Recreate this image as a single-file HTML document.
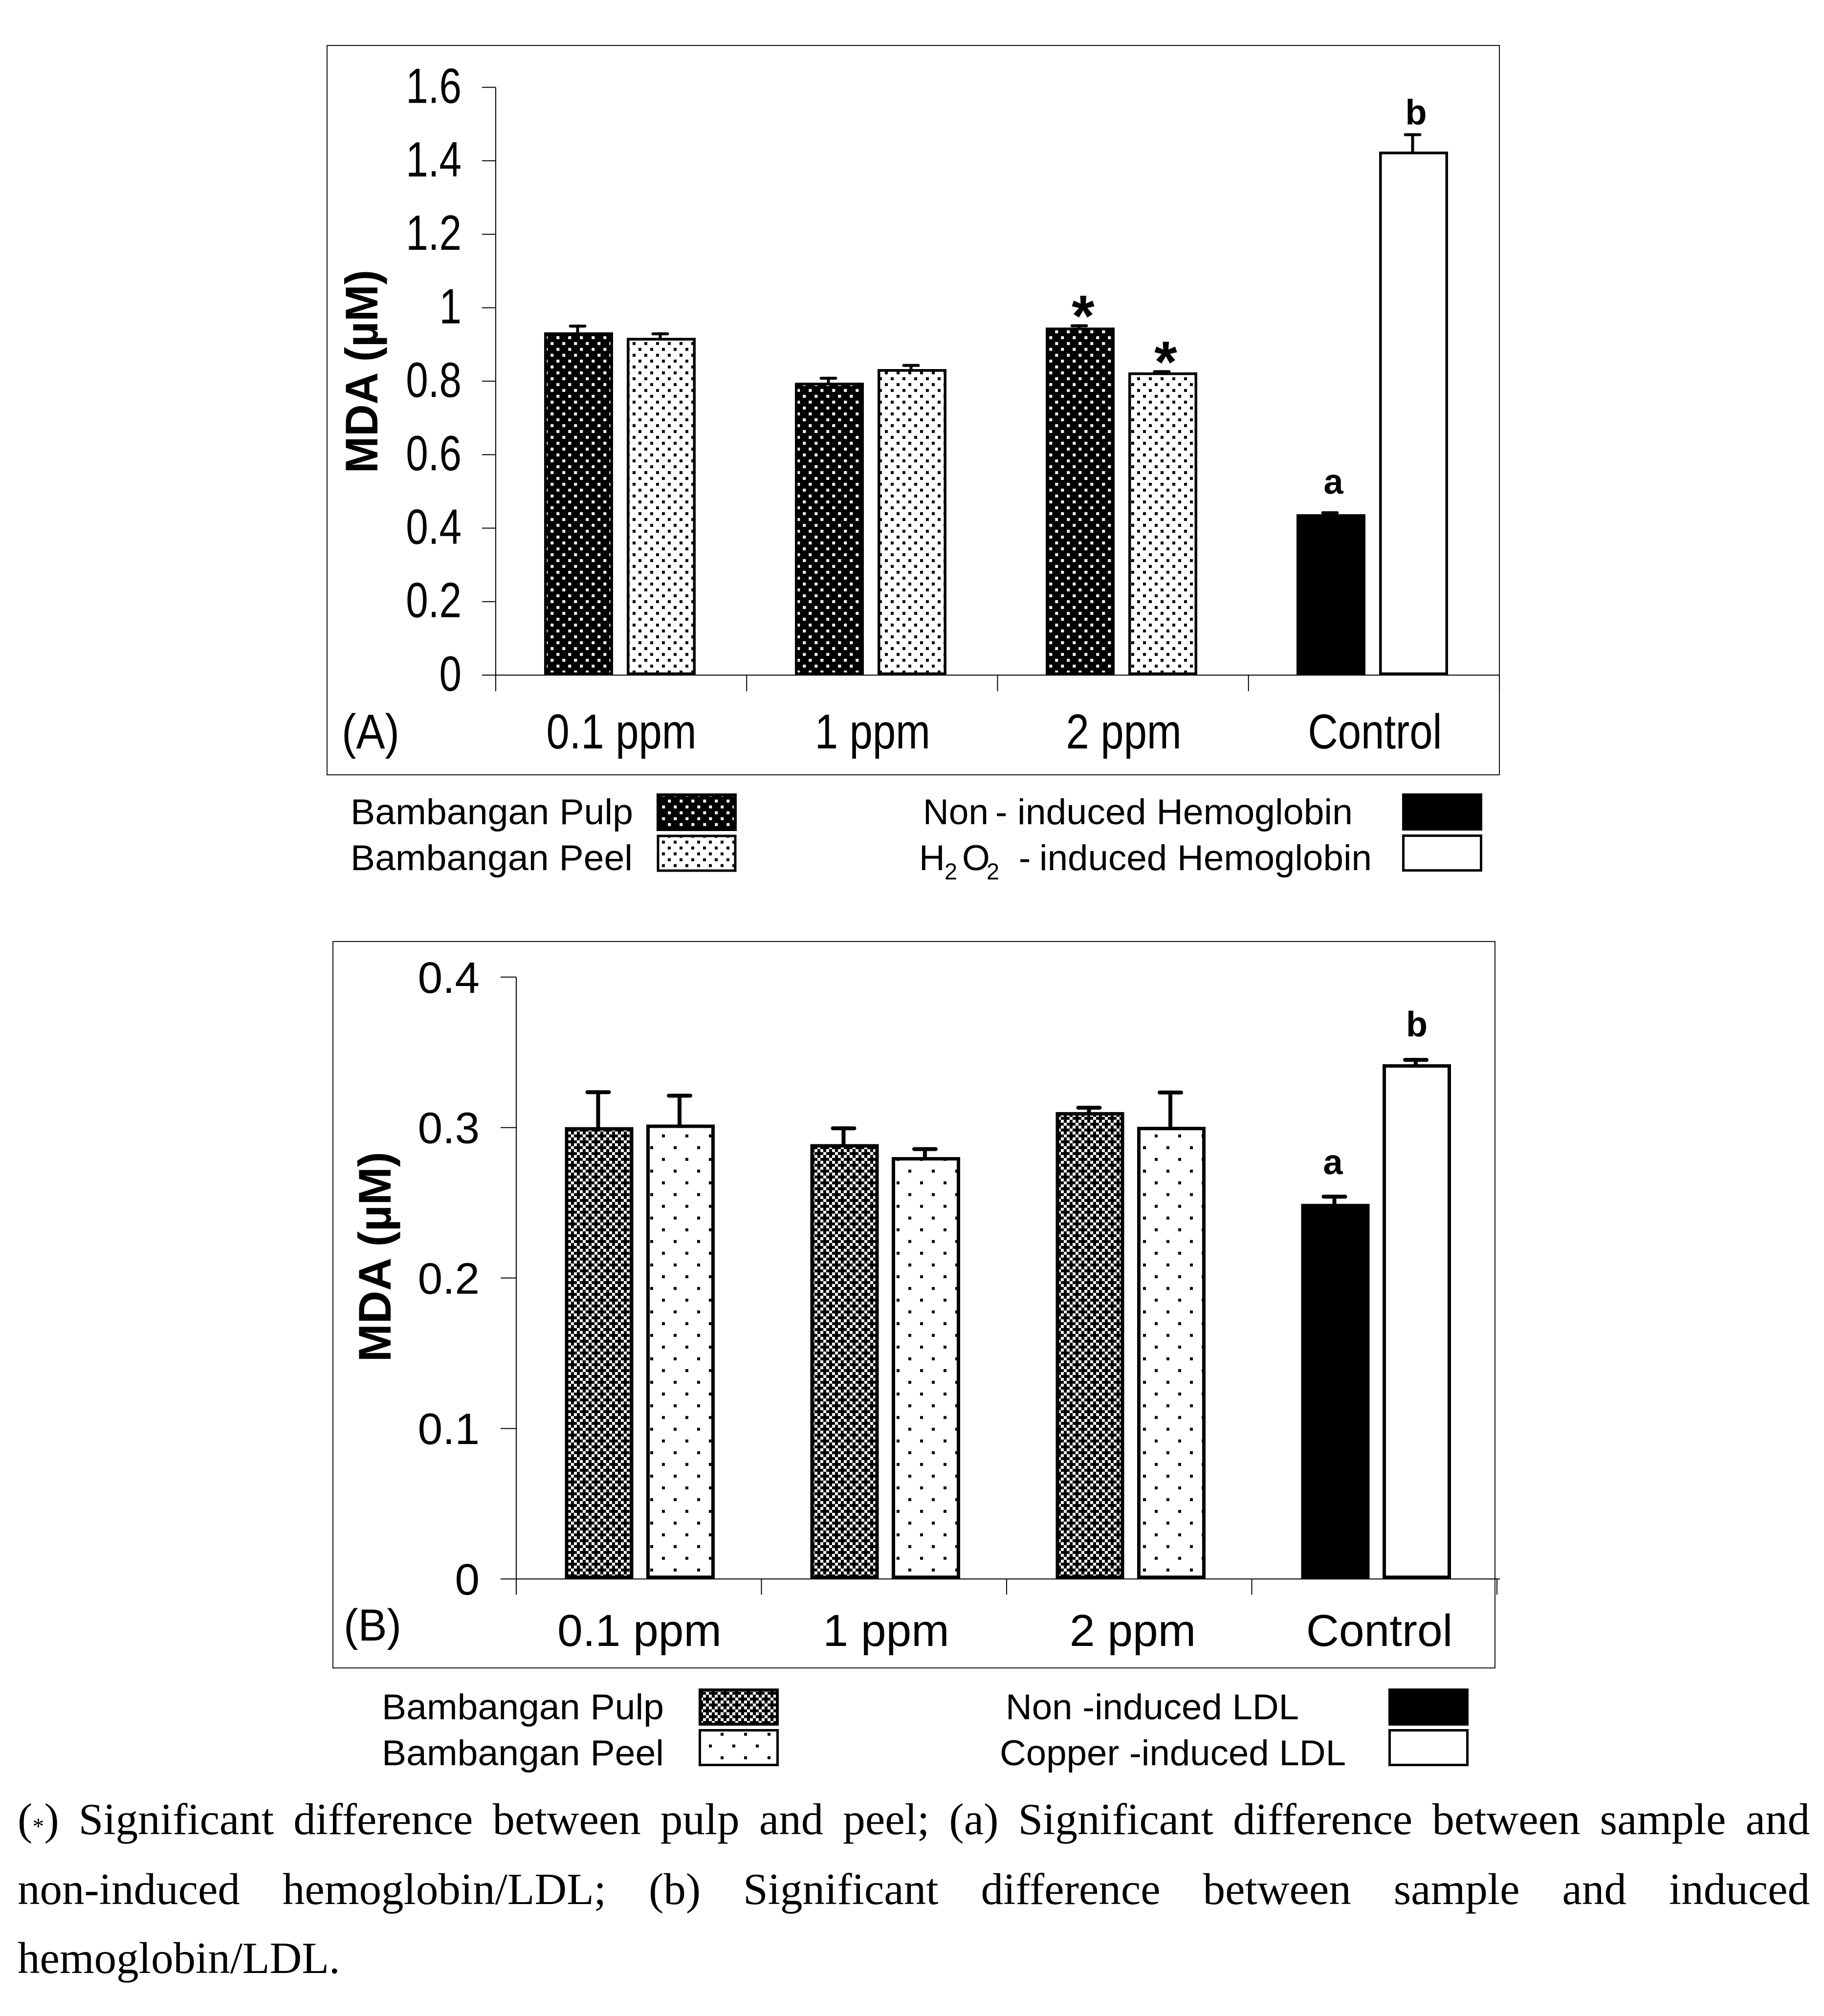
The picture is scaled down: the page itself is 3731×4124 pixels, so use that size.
<!DOCTYPE html>
<html lang="en">
<head>
<meta charset="utf-8">
<title>MDA levels in hemoglobin and LDL</title>
<style>
  html, body { margin: 0; padding: 0; background: #fff; }
  #page { position: relative; width: 3731px; height: 4124px; overflow: hidden; background: #fff; }
  #figure { position: absolute; left: 0; top: 0; }
  svg text { font-family: "Liberation Sans", Arial, sans-serif; fill: #000; }
  .cap { position: absolute; left: 36px; width: 3680px; font-family: "Liberation Serif", "Times New Roman", serif;
         font-size: 91px; line-height: 100px; height: 100px; color: #000; white-space: normal; text-align: justify; text-align-last: justify; }
  .cap.last { text-align: left; text-align-last: left; }
  .small { font-size: 48px; }
</style>
</head>
<body>
<div id="page">
<svg id="figure" width="3731" height="4124" viewBox="0 0 3731 4124" xmlns="http://www.w3.org/2000/svg">
  <defs>
    <pattern id="pulpA" patternUnits="userSpaceOnUse" width="24" height="24" x="1126.3" y="1371.7">
      <rect width="24" height="24" fill="#000"/>
      <rect x="0" y="0" width="6" height="6" fill="#fff"/>
      <rect x="12" y="12" width="6" height="6" fill="#fff"/>
    </pattern>
    <pattern id="peelA" patternUnits="userSpaceOnUse" width="24" height="24" x="1294" y="699.7">
      <rect width="24" height="24" fill="#fff"/>
      <rect x="0" y="0" width="6" height="6" fill="#000"/>
      <rect x="12" y="12" width="6" height="6" fill="#000"/>
    </pattern>
    <pattern id="pulpB" patternUnits="userSpaceOnUse" width="24" height="24" x="1162" y="2338.7">
      <rect width="24" height="24" fill="#000"/>
      <rect x="0" y="0" width="6" height="6" fill="#fff"/>
      <rect x="12" y="0" width="6" height="6" fill="#fff"/>
      <rect x="6" y="6" width="6" height="6" fill="#fff"/>
      <rect x="0" y="12" width="6" height="6" fill="#fff"/>
      <rect x="12" y="12" width="6" height="6" fill="#fff"/>
      <rect x="18" y="18" width="6" height="6" fill="#fff"/>
    </pattern>
    <pattern id="peelB" patternUnits="userSpaceOnUse" width="48" height="48" x="1330" y="2344.7">
      <rect width="48" height="48" fill="#fff"/>
      <rect x="0" y="0" width="6" height="6" fill="#000"/>
      <rect x="24" y="24" width="6" height="6" fill="#000"/>
    </pattern>
  </defs>

  <rect x="669" y="93" width="2398" height="1492" fill="none" stroke="#111" stroke-width="2"/>
  <g id="panelA"></g>
  <text x="699" y="1531" font-size="100" textLength="118" lengthAdjust="spacingAndGlyphs">(A)</text>
  <text transform="translate(772,968) rotate(-90)" font-size="94" font-weight="700" textLength="416" lengthAdjust="spacingAndGlyphs">MDA (µM)</text>

  <g>
    <text x="717" y="1686" font-size="73" textLength="578" lengthAdjust="spacingAndGlyphs">Bambangan Pulp</text>
    <text x="717" y="1780" font-size="73" textLength="577" lengthAdjust="spacingAndGlyphs">Bambangan Peel</text>
    <rect x="1346" y="1626" width="158" height="71" fill="url(#pulpA)" stroke="#000" stroke-width="6"/>
    <rect x="1346" y="1710" width="158" height="71" fill="url(#peelA)" stroke="#000" stroke-width="5"/>
    <text x="1888" y="1686" font-size="73">Non</text>
    <text x="2036" y="1686" font-size="73">-</text>
    <text x="2081" y="1686" font-size="73" textLength="686" lengthAdjust="spacingAndGlyphs">induced Hemoglobin</text>
    <text y="1780" font-size="73"><tspan x="1880">H</tspan><tspan x="1932" dy="19" font-size="47">2</tspan><tspan x="1968" dy="-19">O</tspan><tspan x="2018" dy="19" font-size="47">2</tspan><tspan x="2084" dy="-19">-</tspan></text>
    <text x="2126" y="1780" font-size="73" textLength="680" lengthAdjust="spacingAndGlyphs">induced Hemoglobin</text>
    <rect x="2868" y="1623" width="164" height="76" fill="#000"/>
    <rect x="2870.5" y="1709.5" width="159" height="71" fill="#fff" stroke="#000" stroke-width="5"/>
  </g>

  <rect x="681" y="1926" width="2377" height="1486" fill="none" stroke="#111" stroke-width="2"/>
  <g id="panelB"></g>
  <text x="703" y="3356" font-size="92" textLength="118" lengthAdjust="spacingAndGlyphs">(B)</text>
  <text transform="translate(799,2786) rotate(-90)" font-size="94" font-weight="700" textLength="430" lengthAdjust="spacingAndGlyphs">MDA (µM)</text>

  <g>
    <text x="781" y="3517" font-size="73" textLength="577" lengthAdjust="spacingAndGlyphs">Bambangan Pulp</text>
    <text x="781" y="3611" font-size="73" textLength="577" lengthAdjust="spacingAndGlyphs">Bambangan Peel</text>
    <rect x="1432" y="3457" width="158" height="70" fill="url(#pulpB)" stroke="#000" stroke-width="6"/>
    <rect x="1431.5" y="3539.5" width="159" height="71" fill="url(#peelB)" stroke="#000" stroke-width="5"/>
    <text x="2057" y="3517" font-size="73" textLength="600" lengthAdjust="spacingAndGlyphs">Non -induced LDL</text>
    <text x="2045" y="3611" font-size="73" textLength="708" lengthAdjust="spacingAndGlyphs">Copper -induced LDL</text>
    <rect x="2840" y="3454" width="164" height="76" fill="#000"/>
    <rect x="2842.5" y="3539.5" width="159" height="71" fill="#fff" stroke="#000" stroke-width="5"/>
  </g>
</svg>

<div class="cap" style="top:3672px;width:3666px">(<span class="small">*</span>) Significant difference between pulp and peel; (a) Significant difference between sample and</div>
<div class="cap" style="top:3815px;width:3666px">non-induced hemoglobin/LDL; (b) Significant difference between sample and induced</div>
<div class="cap last" style="top:3956px">hemoglobin/LDL.</div>
</div>

<script>
const categories = ['0.1 ppm', '1 ppm', '2 ppm', 'Control'];

const tickValuesA = [0, 0.2, 0.4, 0.6, 0.8, 1, 1.2, 1.4, 1.6];
const tickLabelsA = ['0', '0.2', '0.4', '0.6', '0.8', '1', '1.2', '1.4', '1.6'];
const pulpA = [0.933, 0.796, 0.946];
const pulpErrA = [0.021, 0.016, 0.009];
const peelA = [0.918, 0.833, 0.824];
const peelErrA = [0.015, 0.014, 0.006];
const nonInducedA = [0.438];
const nonInducedErrA = [0.008];
const inducedA = [1.425];
const inducedErrA = [0.05];
const marksA = [['', ''], ['', ''], ['*', '*'], ['a', 'b']];

const tickValuesB = [0, 0.1, 0.2, 0.3, 0.4];
const tickLabelsB = ['0', '0.1', '0.2', '0.3', '0.4'];
const pulpB = [0.3003, 0.289, 0.3103];
const pulpErrB = [0.0245, 0.0118, 0.0042];
const peelB = [0.302, 0.2804, 0.3005];
const peelErrB = [0.0205, 0.0066, 0.0241];
const nonInducedB = [0.2493];
const nonInducedErrB = [0.0061];
const inducedB = [0.3421];
const inducedErrB = [0.0042];
const marksB = [['', ''], ['', ''], ['', ''], ['a', 'b']];

const SVG_NS = 'http://www.w3.org/2000/svg';

function make(tag, attrs, parent) {
  const node = document.createElementNS(SVG_NS, tag);
  Object.keys(attrs).forEach(function (k) { node.setAttribute(k, attrs[k]); });
  parent.appendChild(node);
  return node;
}

function drawPanel(root, cfg, ticksV, ticksL, first, firstErr, second, secondErr, ctrl1, ctrl1Err, ctrl2, ctrl2Err, marks) {
  const yScale = function (v) { return cfg.zeroY - v * cfg.pxPerUnit; };
  const tickX = function (i) { return cfg.bandLeft + i * cfg.tickStep; };
  const barX = function (i, which) { return cfg.bandLeft + i * cfg.barStep + (which === 0 ? cfg.off1 : cfg.off2); };
  const topY = yScale(ticksV[ticksV.length - 1]);

  const yAxis = make('line', { x1: cfg.bandLeft, x2: cfg.bandLeft, y1: topY, y2: cfg.tickBottom, stroke: '#000', 'stroke-width': 2 }, root);
  
  

  ticksV.forEach(function (v, i) {
    const y = yScale(v);
    const tick = make('line', { x1: cfg.tickLeft, x2: cfg.bandLeft, y1: y, y2: y, stroke: '#000', 'stroke-width': 2 }, root);
    
    
    const label = make('text', {
      transform: 'translate(' + cfg.tickLabelX + ',' + (y + cfg.tickLabelDy) + ') scale(' + cfg.tickLabelSx + ',1)',
      'text-anchor': 'end', 'font-size': cfg.tickFont
    }, root);
    label.textContent = ticksL[i];
    
    
  });

  categories.forEach(function (name, i) {
    const isControl = i >= first.length;
    const vals = isControl ? [ctrl1[i - first.length], ctrl2[i - first.length]] : [first[i], second[i]];
    const errs = isControl ? [ctrl1Err[i - first.length], ctrl2Err[i - first.length]] : [firstErr[i], secondErr[i]];
    const fills = isControl ? ['#000', '#fff'] : [cfg.fill1, cfg.fill2];

    vals.forEach(function (v, s) {
      const x = barX(i, s);
      const top = yScale(v);
      const errTop = yScale(v + errs[s]);
      const cx = x + cfg.barWidth / 2 - 2;
      const stem = make('line', { x1: cx, x2: cx, y1: errTop, y2: top + 2, stroke: '#000', 'stroke-width': cfg.stem }, root);
      
      
      const capLine = make('line', {
        x1: cx - cfg.capHalf + cfg.stem / 2, x2: cx + cfg.capHalf - cfg.stem / 2,
        y1: errTop + cfg.stem / 2, y2: errTop + cfg.stem / 2,
        stroke: '#000', 'stroke-width': cfg.stem, 'stroke-linecap': 'round'
      }, root);
      
      
      const bar = make('rect', {
        x: x + cfg.barStroke / 2, y: top + cfg.barStroke / 2,
        width: cfg.barWidth - cfg.barStroke, height: cfg.zeroY - top - cfg.barStroke,
        fill: fills[s], stroke: '#000', 'stroke-width': cfg.barStroke
      }, root);
      
      

      const m = marks[i][s];
      if (m) {
        const isStar = m === '*';
        const base = isStar ? errTop + 24 : errTop - cfg.markGap[m];
        const markText = make('text', {
          x: cx + cfg.markDx[m], y: base, 'text-anchor': 'middle',
          'font-weight': 700, 'font-size': isStar ? 120 : 72
        }, root);
        markText.textContent = m;
        
        
      }
    });

    const catLabel = make('text', {
      transform: 'translate(' + (cfg.labelStart + i * cfg.labelStep) + ',' + cfg.labelY + ') scale(' + cfg.labelSx + ',1)',
      'text-anchor': 'middle', 'font-size': cfg.labelFont
    }, root);
    catLabel.textContent = name;
    
    
  });

  categories.forEach(function (name, i) {
    const xTick = make('line', { x1: tickX(i + 1), x2: tickX(i + 1), y1: cfg.zeroY, y2: cfg.tickBottom, stroke: '#000', 'stroke-width': 2 }, root);
    
    
  });

  const xAxis = make('line', { x1: cfg.tickLeft, x2: cfg.axisRight, y1: cfg.zeroY, y2: cfg.zeroY, stroke: '#000', 'stroke-width': 2 }, root);
  
  
}

drawPanel(document.getElementById('panelA'), {
  zeroY: 1381, pxPerUnit: 751.5, bandLeft: 1014, tickStep: 513.25, barStep: 513,
  off1: 99, off2: 268, barWidth: 141, barStroke: 5.5, stem: 6, capHalf: 18,
  tickLeft: 986, tickBottom: 1414, axisRight: 3067,
  tickLabelX: 944, tickLabelDy: 32, tickLabelSx: 0.81, tickFont: 101,
  labelStart: 1271, labelStep: 513.8, labelY: 1531, labelSx: 0.85, labelFont: 100,
  fill1: 'url(#pulpA)', fill2: 'url(#peelA)', markGap: { a: 36, b: 18 }, markDx: { '*': 8, a: 7, b: 7 }
}, tickValuesA, tickLabelsA, pulpA, pulpErrA, peelA, peelErrA, nonInducedA, nonInducedErrA, inducedA, inducedErrA, marksA);

drawPanel(document.getElementById('panelB'), {
  zeroY: 3230, pxPerUnit: 3078, bandLeft: 1056, tickStep: 501.5, barStep: 502,
  off1: 99.5, off2: 266, barWidth: 140, barStroke: 7, stem: 8, capHalf: 26,
  tickLeft: 1024, tickBottom: 3262, axisRight: 3068,
  tickLabelX: 981, tickLabelDy: 32, tickLabelSx: 1.01, tickFont: 90,
  labelStart: 1308, labelStep: 504.5, labelY: 3367, labelSx: 1.01, labelFont: 92,
  fill1: 'url(#pulpB)', fill2: 'url(#peelB)', markGap: { a: 42, b: 44 }, markDx: { '*': 2, a: -3, b: 2 }
}, tickValuesB, tickLabelsB, pulpB, pulpErrB, peelB, peelErrB, nonInducedB, nonInducedErrB, inducedB, inducedErrB, marksB);
</script>
</body>
</html>
